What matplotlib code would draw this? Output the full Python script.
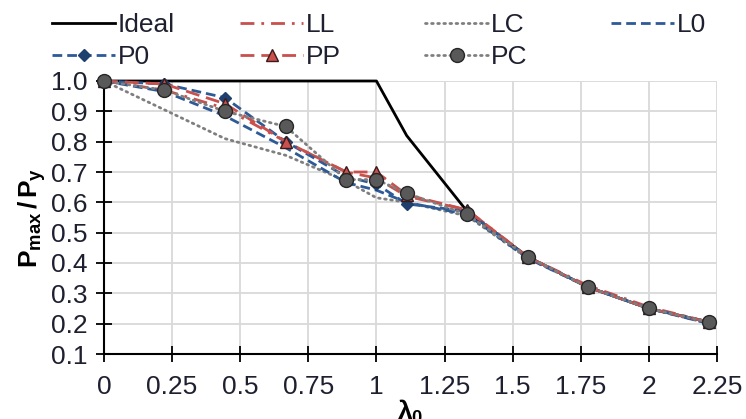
import matplotlib
matplotlib.use('Agg')
import matplotlib.pyplot as plt

plt.rcParams['font.family'] = ['Liberation Sans', 'DejaVu Sans']
plt.rcParams['mathtext.fontset'] = 'custom'
plt.rcParams['mathtext.rm'] = 'Liberation Sans'
plt.rcParams['mathtext.it'] = 'Liberation Sans:italic'
plt.rcParams['mathtext.bf'] = 'Liberation Sans:bold'

# Datos (lambda_0 vs Pmax/Py)
lam = [0, 0.222, 0.444, 0.667, 0.889, 1.0, 1.111, 1.333, 1.556, 1.778, 2.0, 2.222]
ideal = [1.0, 1.0, 1.0, 1.0, 1.0, 1.0, 0.82, 0.57, 0.42, 0.32, 0.25, 0.205]
ll = [1.0, 0.97, 0.91, 0.80, 0.70, 0.68, 0.62, 0.575, 0.42, 0.325, 0.255, 0.205]
lc = [1.0, 0.905, 0.81, 0.755, 0.67, 0.615, 0.60, 0.555, 0.415, 0.32, 0.25, 0.20]
l0 = [1.0, 0.965, 0.885, 0.78, 0.665, 0.64, 0.60, 0.56, 0.415, 0.32, 0.25, 0.20]
p0 = [1.0, 0.99, 0.945, 0.80, 0.685, 0.66, 0.595, 0.57, 0.42, 0.32, 0.25, 0.205]
pp = [1.0, 0.99, 0.925, 0.80, 0.70, 0.70, 0.625, 0.575, 0.42, 0.32, 0.25, 0.205]
pc = [1.0, 0.97, 0.90, 0.85, 0.675, 0.675, 0.63, 0.56, 0.42, 0.32, 0.25, 0.205]

x_ticks = [0, 0.25, 0.5, 0.75, 1, 1.25, 1.5, 1.75, 2, 2.25]
x_labels = ['0', '0.25', '0.5', '0.75', '1', '1.25', '1.5', '1.75', '2', '2.25']
y_ticks = [0.1, 0.2, 0.3, 0.4, 0.5, 0.6, 0.7, 0.8, 0.9, 1.0]

azul = '#2E5A96'
rojo = '#C8504D'
gris = '#7F7F7F'
texto = '#1E2030'
fs = 19

fig = plt.figure(figsize=(7.46, 4.19), dpi=100)
ax = fig.add_axes([104 / 746, 1 - 354 / 419, 613 / 746, 273 / 419])

lw = 2.0
h_ideal, = ax.plot(lam, ideal, color='black', lw=lw, ls='-', label='Ideal')
h_ll, = ax.plot(lam, ll, color=rojo, lw=lw, ls=(0, (5, 2.5, 1, 2.5)), label='LL')
h_lc, = ax.plot(lam, lc, color=gris, lw=lw, ls=(0, (0.6, 1.6)), dash_capstyle='round', label='LC')
h_l0, = ax.plot(lam, l0, color=azul, lw=lw, ls=(0, (3.5, 1.8)), label='L0')
h_p0, = ax.plot(lam, p0, color=azul, lw=lw, ls=(0, (3.5, 1.8)), marker='D', ms=6,
                mfc='#1F3F6E', mec='#1F3F6E', label='P0')
h_pp, = ax.plot(lam, pp, color=rojo, lw=lw, ls=(0, (5, 2.5)), marker='^', ms=8,
                mfc=rojo, mec='#3a1a1a', label='PP')
h_pc, = ax.plot(lam, pc, color=gris, lw=lw, ls=(0, (0.6, 1.6)), dash_capstyle='round',
                marker='o', ms=10, mfc='#595959', mec='#262626', label='PC')
for h in [h_ideal, h_ll, h_lc, h_l0, h_p0, h_pp, h_pc]:
    h.set_clip_on(False)

ax.set_xlim(0, 2.25)
ax.set_ylim(0.1, 1.0)
ax.set_xticks(x_ticks)
ax.set_xticklabels(x_labels)
ax.set_yticks(y_ticks)
ax.set_yticklabels(['%.1f' % v for v in y_ticks])
ax.grid(True, color='#D9D9D9', lw=1.3)
ax.set_axisbelow(True)
for s in ['top', 'right']:
    ax.spines[s].set_visible(False)
for s in ['left', 'bottom']:
    ax.spines[s].set_linewidth(1.5)
    ax.spines[s].set_color('black')
    ax.spines[s].set_zorder(1.5)
ax.tick_params(direction='inout', length=12, width=1.3, colors='black',
               labelsize=fs, labelcolor=texto)
ax.tick_params(axis='y', pad=6)
ax.tick_params(axis='x', pad=9)

ax.set_ylabel(r'$\mathbf{P_{max}\,/\,P_y}$', fontsize=fs, labelpad=2)
ax.set_xlabel(r'$\mathbf{\lambda_0}$', fontsize=fs, labelpad=-1)

# Leyenda en 4 columnas
columnas = [([h_ideal, h_p0], 52), ([h_ll, h_pp], 240), ([h_lc, h_pc], 425), ([h_l0], 611)]
for handles, xpx in columnas:
    leg = fig.legend(handles=handles, loc='upper left',
                     bbox_to_anchor=(xpx / 746, 1 - 13 / 419), frameon=False,
                     fontsize=fs, handlelength=2.4, handletextpad=0.1,
                     borderpad=0, borderaxespad=0, labelspacing=0.3)
    for t in leg.get_texts():
        t.set_color(texto)

fig.savefig('out.png', dpi=100)
